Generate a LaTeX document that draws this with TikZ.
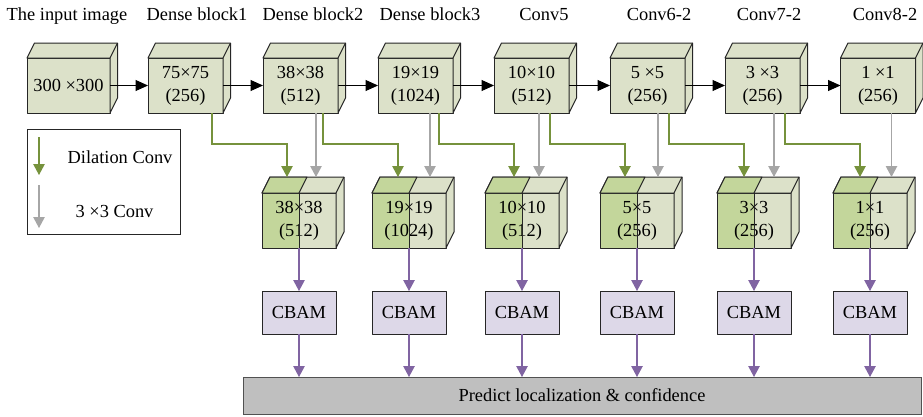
\documentclass[tikz,border=0pt]{standalone}
\usepackage{fontspec}
\setmainfont{Liberation Serif}
\usetikzlibrary{arrows.meta,calc}

\definecolor{boxfill}{HTML}{DCE1C9}
\definecolor{greenfill}{HTML}{C3D69B}
\definecolor{edge}{HTML}{262626}
\definecolor{dilgreen}{HTML}{76923C}
\definecolor{convgrey}{HTML}{A6A6A6}
\definecolor{attnpurple}{HTML}{8064A2}
\definecolor{cbamfill}{HTML}{DDD8E8}
\definecolor{predfill}{HTML}{BFBFBF}

\tikzset{
  facestyle/.style={draw=edge, line width=1pt, line join=round},
  topbox/.style={facestyle, fill=boxfill, minimum width=75, minimum height=55,
    inner sep=0, outer sep=0, align=center},
  midcube/.style={facestyle, fill=boxfill, minimum width=74, minimum height=55,
    inner sep=0, outer sep=0, align=center,
    path picture={\fill[greenfill] (path picture bounding box.north west)
      rectangle (path picture bounding box.south);}},
  cbambox/.style={facestyle, fill=cbamfill, minimum width=74, minimum height=43,
    inner sep=0, outer sep=0},
  predbox/.style={draw=edge!80, line width=1pt, fill=predfill, minimum width=678,
    minimum height=37, inner sep=0, outer sep=0},
  legendbox/.style={draw=edge, line width=1pt, minimum width=153, minimum height=105,
    inner sep=0, outer sep=0},
  toplabel/.style={anchor=base, inner sep=0},
  flowarr/.style={draw=black, line width=1pt, -{Triangle[length=12.5pt,width=11pt]}},
  dilarr/.style={draw=dilgreen, line width=1.1pt, -{Triangle[length=11pt,width=11.5pt]}},
  convarr/.style={draw=convgrey, line width=1.1pt, -{Triangle[length=11pt,width=11.5pt]}},
  attnarr/.style={draw=attnpurple, line width=1.1pt, -{Triangle[length=11pt,width=11.5pt]}},
}

% top and right faces of a plain feature-map block
\newcommand\blockfaces[1]{%
  \filldraw[facestyle, fill=boxfill] (#1.north west) -- ++(7.5,-15)
    -- ($(#1.north east)+(7.5,-15)$) -- ($(#1.south east)+(7.5,-15)$)
    -- (#1.south east) -- (#1.north east) -- cycle;
  \draw[facestyle] (#1.north east) -- ++(7.5,-15);
}
% top and right faces of a two-part (dilated + 3x3) block
\newcommand\pairfaces[1]{%
  \filldraw[facestyle, fill=boxfill] (#1.north west) -- ++(8,-16)
    -- ($(#1.north east)+(8,-16)$) -- ($(#1.south east)+(8,-16)$)
    -- (#1.south east) -- (#1.north east) -- cycle;
  \filldraw[facestyle, fill=greenfill] (#1.north west) -- ++(8,-16)
    -- ($(#1.north)+(8,-16)$) -- (#1.north) -- cycle;
  \draw[facestyle] (#1.north east) -- ++(8,-16);
  \draw[facestyle] (#1.north) -- (#1.south);
}

\begin{document}
\begin{tikzpicture}[x=1pt, y=-1pt, font=\fontsize{18.4}{23}\selectfont]
\useasboundingbox (0,0) rectangle (923,416);

% ---- column titles
\node[toplabel] (t0) at (67,20)  {The input image};
\node[toplabel] (t1) at (197,20) {Dense block1};
\node[toplabel] (t2) at (313,20) {Dense block2};
\node[toplabel] (t3) at (430,20) {Dense block3};
\node[toplabel] (t4) at (544,20) {Conv5};
\node[toplabel] (t5) at (659,20) {Conv6-2};
\node[toplabel] (t6) at (769,20) {Conv7-2};
\node[toplabel] (t7) at (885,20) {Conv8-2};

% ---- backbone blocks
\node[topbox, minimum width=83] (in) at (68.5,85.5) {300 ×300};
\node[topbox] (db1) at (185.5,85.5) {75×75\\(256)};
\node[topbox] (db2) at (300.5,85.5) {38×38\\(512)};
\node[topbox] (db3) at (415.5,85.5) {19×19\\(1024)};
\node[topbox] (c5)  at (531.5,85.5) {10×10\\(512)};
\node[topbox] (c6)  at (647.5,85.5) {5 ×5\\(256)};
\node[topbox] (c7)  at (762.5,85.5) {3 ×3\\(256)};
\node[topbox] (c8)  at (878,85.5)   {1 ×1\\(256)};
\foreach \n in {in,db1,db2,db3,c5,c6,c7,c8} {\blockfaces{\n}}

\draw[flowarr] (in.east)  -- (db1.west);
\draw[flowarr] (db1.east) -- (db2.west);
\draw[flowarr] (db2.east) -- (db3.west);
\draw[flowarr] (db3.east) -- (c5.west);
\draw[flowarr] (c5.east)  -- (c6.west);
\draw[flowarr] (c6.east)  -- (c7.west);
\draw[flowarr] (c7.east)  -- (c8.west);

% ---- fused blocks
\node[midcube] (m1) at (299,220.5) {38×38\\(512)};
\node[midcube] (m2) at (409,220.5) {19×19\\(1024)};
\node[midcube] (m3) at (522,220.5) {10×10\\(512)};
\node[midcube] (m4) at (637,220.5) {5×5\\(256)};
\node[midcube] (m5) at (754,220.5) {3×3\\(256)};
\node[midcube] (m6) at (870,220.5) {1×1\\(256)};
\foreach \n in {m1,m2,m3,m4,m5,m6} {\pairfaces{\n}}

% dilated convolution branches
\draw[dilarr] ($(db1.south west)+(64,0)$) -- ++(0,31) -| ($(m1.north)+(-12,-16)$);
\draw[dilarr] ($(db2.south west)+(60,0)$) -- ++(0,31) -| ($(m2.north)+(-11,-16)$);
\draw[dilarr] ($(db3.south west)+(61,0)$) -- ++(0,31) -| ($(m3.north)+(-8,-16)$);
\draw[dilarr] ($(c5.south west)+(56,0)$)  -- ++(0,31) -| ($(m4.north)+(-12,-16)$);
\draw[dilarr] ($(c6.south west)+(59,0)$)  -- ++(0,31) -| ($(m5.north)+(-10,-16)$);
\draw[dilarr] ($(c7.south west)+(60,0)$)  -- ++(0,31) -| ($(m6.north)+(-10,-16)$);

% 3x3 convolution branches
\draw[convarr] ($(db2.south west)+(53,0)$) coordinate (g1) -- (g1 |- {$(m1.north)+(0,-16)$});
\draw[convarr] ($(db3.south west)+(52,0)$) coordinate (g2) -- (g2 |- {$(m2.north)+(0,-16)$});
\draw[convarr] ($(c5.south west)+(45,0)$)  coordinate (g3) -- (g3 |- {$(m3.north)+(0,-16)$});
\draw[convarr] ($(c6.south west)+(48,0)$)  coordinate (g4) -- (g4 |- {$(m4.north)+(0,-16)$});
\draw[convarr] ($(c7.south west)+(49,0)$)  coordinate (g5) -- (g5 |- {$(m5.north)+(0,-16)$});
\draw[convarr] ($(c8.south west)+(51,0)$)  coordinate (g6) -- (g6 |- {$(m6.north)+(0,-16)$});

% ---- attention modules and prediction head
\node[predbox] (pred) at (582,395.5) {Predict localization \& confidence};
\foreach \i/\x in {1/299,2/409,3/522,4/637,5/754,6/870} {
  \node[cbambox] (cb\i) at (\x,312.5) {CBAM};
  \draw[attnarr] (m\i.south) -- (cb\i.north);
  \draw[attnarr] (cb\i.south) -- (cb\i.south |- pred.north);
}

% ---- legend
\node[legendbox] (leg) at (103.5,181.5) {};
\coordinate (lg1a) at (39,137);
\coordinate (lg1b) at (39,175);
\coordinate (lg2a) at (39,185);
\coordinate (lg2b) at (39,228);
\draw[dilarr]  (lg1a) -- (lg1b);
\draw[convarr] (lg2a) -- (lg2b);
\node (legd) at (120,157) {Dilation Conv};
\node (legc) at (114.5,211) {3 ×3 Conv};
\end{tikzpicture}
\end{document}
